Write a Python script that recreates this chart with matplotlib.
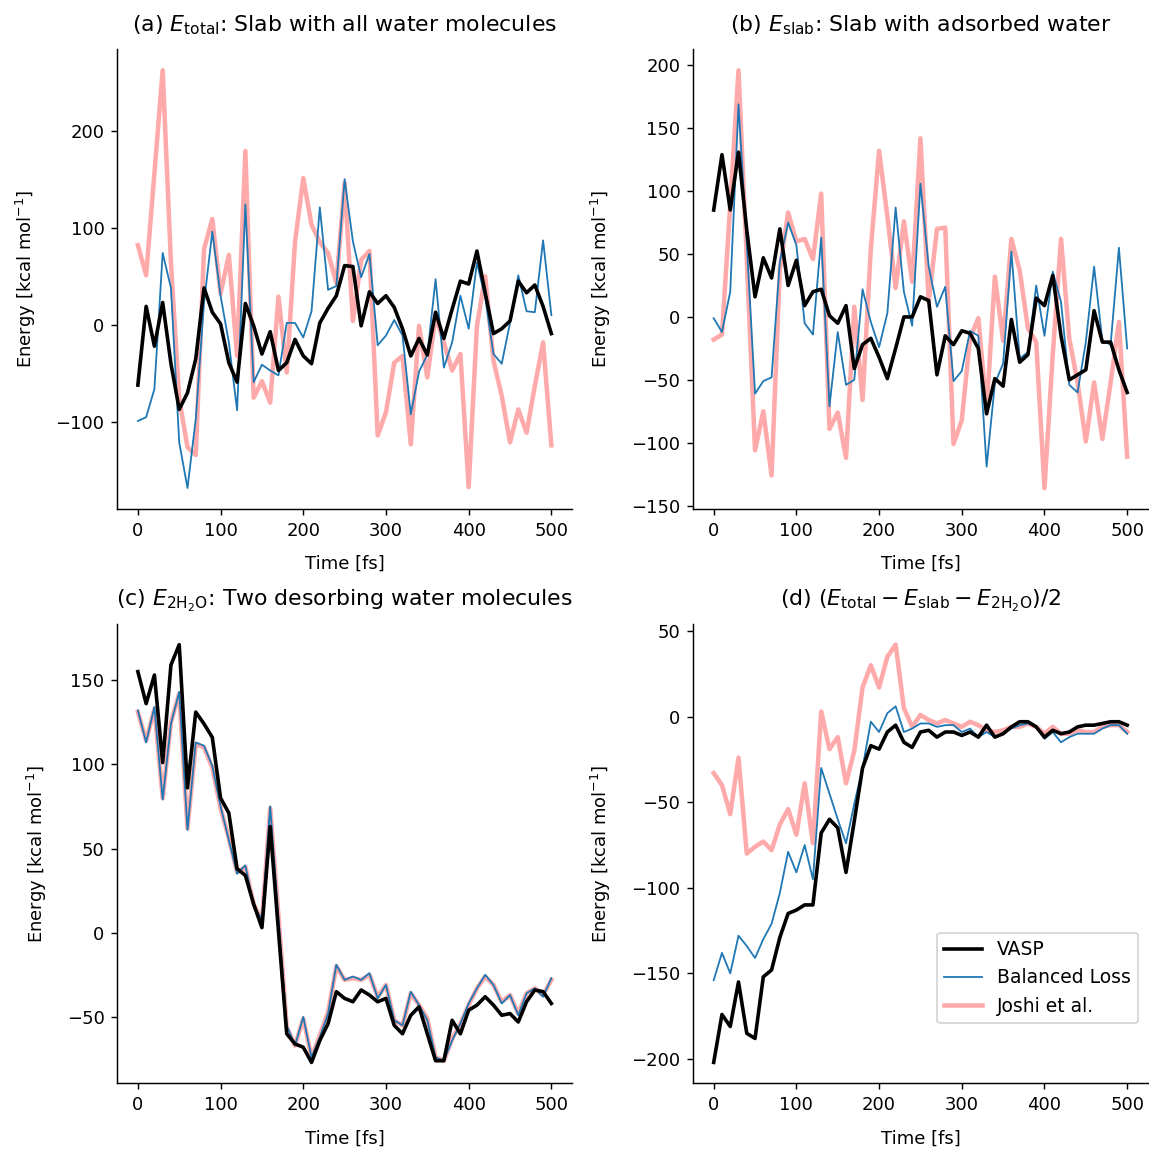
import numpy as np
import matplotlib
matplotlib.use("Agg")
import matplotlib.pyplot as plt

# Zeitachse: 0 .. 500 fs, Schritt 10 fs
time_fs = np.arange(0, 501, 10)

# (a) E_total
a_vasp = [-62, 19, -22, 23, -40, -87, -70, -35, 38, 13, 1, -39, -59, 22, -1, -30, -7, -47, -39, -15,
          -32, -40, 2, 17, 30, 61, 60, -1, 34, 22, 30, 18, -4, -32, -14, -31, 13, -14, 16, 45,
          42, 76, 33, -9, -4, 4, 45, 33, 41, 19, -9]
a_balanced = [-99, -95, -66, 74, 38, -121, -168, -97, 23, 96, 30, -18, -88, 124, -59, -41, -47, -52, 2, 2,
              -13, 14, 121, 36, 40, 150, 86, 49, 73, -21, -11, 5, -11, -92, -48, -31, 47, -44, -18, 30,
              -4, 64, 28, -30, -40, 2, 51, 14, 13, 87, 10]
a_joshi = [82, 51, 156, 262, 64, -76, -126, -134, 78, 109, 32, 72, -32, 179, -75, -58, -80, 29, -49, 85,
           151, 103, 85, 74, 43, 146, 4, 67, 76, -114, -90, -39, -32, -123, -1, -54, 9, -18, -47, -30,
           -167, -1, 50, -37, -73, -121, -87, -111, -63, -18, -124]

# (b) E_slab
b_vasp = [85, 129, 85, 131, 69, 16, 47, 31, 70, 25, 45, 9, 20, 22, 1, -5, 9, -41, -22, -17,
          -32, -49, -25, 0, 0, 16, 13, -46, -15, -22, -11, -13, -25, -77, -49, -55, -2, -36, -30, 15,
          9, 33, -15, -50, -46, -42, 5, -20, -20, -42, -60]
b_balanced = [-1, -12, 20, 169, 58, -61, -51, -48, 44, 75, 57, -5, -14, 63, -71, -12, -54, -50, 22, -4,
              -24, 3, 87, 20, -7, 106, 40, 8, 24, -51, -43, -11, -15, -119, -53, -37, 52, -33, -28, 25,
              -15, 36, 12, -54, -60, -20, 40, -19, -22, 55, -25]
b_joshi = [-18, -14, 89, 196, 46, -106, -75, -126, 38, 83, 60, 62, 46, 98, -89, -76, -112, 8, -66, 54,
           132, 80, 23, 76, 28, 142, 12, 70, 71, -101, -82, -17, -1, -74, 32, -19, 62, 37, -9, -20,
           -136, -30, 62, -17, -52, -99, -52, -97, -52, -4, -111]

# (c) E_2H2O
c_vasp = [155, 136, 153, 101, 159, 171, 86, 131, 124, 116, 80, 71, 38, 34, 17, 3, 63, 1, -60, -66,
          -68, -77, -64, -54, -35, -39, -41, -34, -37, -41, -39, -55, -60, -49, -44, -60, -76, -76, -52, -60,
          -46, -43, -38, -43, -49, -48, -53, -41, -34, -35, -42]
c_balanced = [132, 113, 134, 79, 124, 143, 61, 113, 111, 99, 75, 55, 35, 40, 16, 8, 75, 9, -55, -67,
              -50, -74, -62, -48, -19, -28, -26, -28, -24, -39, -31, -52, -55, -35, -43, -52, -74, -76, -64, -54,
              -42, -33, -25, -31, -42, -37, -49, -36, -33, -38, -27]
c_joshi = [131, 114, 133, 80, 125, 142, 62, 112, 110, 98, 74, 56, 36, 39, 17, 7, 74, 10, -56, -67,
           -51, -74, -61, -47, -20, -28, -27, -28, -25, -38, -31, -52, -55, -36, -43, -51, -74, -76, -63, -54,
           -43, -33, -26, -31, -41, -37, -48, -36, -33, -37, -28]

# (d) (E_total - E_slab - E_2H2O)/2
d_vasp = [-202, -174, -181, -155, -185, -188, -152, -148, -129, -115, -113, -110, -110, -68, -60, -65, -91, -61, -30, -17,
          -19, -9, -5, -15, -18, -9, -8, -12, -9, -9, -11, -9, -12, -5, -12, -10, -6, -3, -3, -6,
          -12, -8, -10, -9, -6, -5, -5, -4, -3, -3, -5]
d_balanced = [-154, -138, -150, -128, -134, -141, -130, -121, -103, -79, -91, -75, -95, -30, -45, -60, -74, -51, -30, -3,
              -9, 2, 6, -9, -7, -4, -4, -6, -5, -5, -9, -7, -12, -9, -12, -10, -7, -5, -4, -6,
              -13, -9, -15, -12, -10, -10, -10, -7, -5, -5, -10]
d_joshi = [-33, -40, -57, -24, -80, -76, -73, -78, -63, -54, -69, -39, -74, 3, -19, -12, -39, -20, 17, 30,
           17, 35, 42, 5, -6, 1, -2, -4, -2, -4, -6, -3, -5, -8, -9, -8, -6, -6, -4, -6,
           -10, -6, -10, -10, -8, -9, -9, -6, -5, -5, -9]

titles = [
    r"(a) $E_\mathrm{total}$: Slab with all water molecules",
    r"(b) $E_\mathrm{slab}$: Slab with adsorbed water",
    r"(c) $E_\mathrm{2H_2O}$: Two desorbing water molecules",
    r"(d) $(E_\mathrm{total} - E_\mathrm{slab} - E_\mathrm{2H_2O})/2$",
]
panels = [
    (a_vasp, a_balanced, a_joshi),
    (b_vasp, b_balanced, b_joshi),
    (c_vasp, c_balanced, c_joshi),
    (d_vasp, d_balanced, d_joshi),
]

DPI = 130
fig, axes = plt.subplots(2, 2, figsize=(1149 / DPI, 1150 / DPI), dpi=DPI)
fig.subplots_adjust(left=0.102, right=0.999, bottom=0.058, top=0.957, wspace=0.266, hspace=0.25)

for ax, title, (vasp, balanced, joshi) in zip(axes.flat, titles, panels):
    # Joshi pod, potom Balanced, VASP navrchu
    h_joshi, = ax.plot(time_fs, joshi, color="#ffaaaa", lw=2.5, label="Joshi et al.")
    h_bal, = ax.plot(time_fs, balanced, color="tab:blue", lw=1.0, label="Balanced Loss")
    h_vasp, = ax.plot(time_fs, vasp, color="black", lw=2.0, label="VASP")
    ax.set_title(title, fontsize=12.2, pad=10)
    ax.set_xlabel("Time [fs]", labelpad=8.5)
    ax.set_ylabel(r"Energy [kcal mol$^{-1}$]", labelpad=10)
    ax.set_xticks([0, 100, 200, 300, 400, 500])
    ax.spines["top"].set_visible(False)
    ax.spines["right"].set_visible(False)

axes[1, 1].legend(handles=[h_vasp, h_bal, h_joshi], loc="lower right",
                  bbox_to_anchor=(1.0, 0.11), fontsize=10.4)

fig.savefig("out.png", dpi=DPI)
